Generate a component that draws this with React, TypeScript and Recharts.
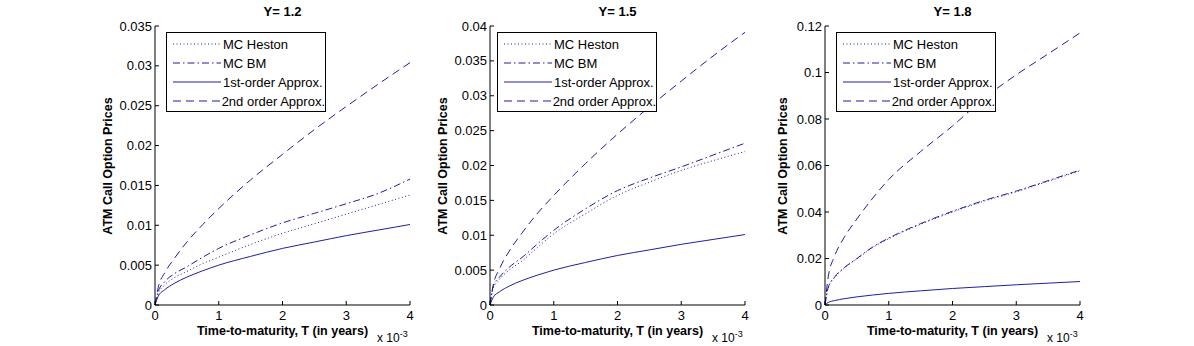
import { LineChart, Line, XAxis, YAxis, Legend } from 'recharts';

const FONT = '"Liberation Sans", Arial, Helvetica, sans-serif';
const BLUE = '#1f1f9f';

// time to maturity, in units of 1e-3 years
const maturities = [0, 0.05, 0.15, 0.3, 0.5, 0.75, 1, 1.5, 2, 2.5, 3, 3.5, 4];
const xTicks = [0, 1, 2, 3, 4];

// Y = 1.2
const heston12 = [0, 0.0014, 0.0025, 0.0034, 0.0042, 0.0052, 0.006, 0.0076, 0.009, 0.0102, 0.0114, 0.0126, 0.0138];
const bm12 = [0, 0.0017, 0.0029, 0.0039, 0.0048, 0.006, 0.0071, 0.0088, 0.0103, 0.0115, 0.0127, 0.014, 0.0158];
const first12 = [0, 0.0011, 0.0019, 0.0027, 0.0035, 0.0043, 0.005, 0.0061, 0.0071, 0.0079, 0.0087, 0.0094, 0.0101];
const second12 = [0, 0.0022, 0.004, 0.0058, 0.0079, 0.0101, 0.0121, 0.0157, 0.0189, 0.022, 0.0249, 0.0277, 0.0304];
const yTicks12 = [0, 0.005, 0.01, 0.015, 0.02, 0.025, 0.03, 0.035];

// Y = 1.5
const heston15 = [0, 0.0024, 0.0037, 0.005, 0.0063, 0.0083, 0.0102, 0.0131, 0.0157, 0.0176, 0.0193, 0.0207, 0.022];
const bm15 = [0, 0.0027, 0.004, 0.0054, 0.0068, 0.0088, 0.0107, 0.0138, 0.0164, 0.0182, 0.0198, 0.0215, 0.0232];
const first15 = [0, 0.0011, 0.0019, 0.0027, 0.0035, 0.0043, 0.005, 0.0061, 0.0071, 0.0079, 0.0087, 0.0094, 0.0101];
const second15 = [0, 0.0028, 0.0052, 0.0077, 0.0103, 0.0132, 0.0157, 0.0203, 0.0245, 0.0284, 0.0321, 0.0357, 0.0391];
const yTicks15 = [0, 0.005, 0.01, 0.015, 0.02, 0.025, 0.03, 0.035, 0.04];

// Y = 1.8
const heston18 = [0, 0.0073, 0.0118, 0.0158, 0.0198, 0.0247, 0.0285, 0.0347, 0.04, 0.0447, 0.0487, 0.0532, 0.0577];
const bm18 = [0, 0.0075, 0.012, 0.016, 0.02, 0.025, 0.0288, 0.035, 0.0403, 0.045, 0.049, 0.0535, 0.058];
const first18 = [0, 0.0011, 0.0019, 0.0027, 0.0035, 0.0043, 0.005, 0.0061, 0.0071, 0.0079, 0.0087, 0.0094, 0.0101];
const second18 = [0, 0.012, 0.021, 0.029, 0.037, 0.046, 0.054, 0.066, 0.077, 0.089, 0.099, 0.108, 0.117];
const yTicks18 = [0, 0.02, 0.04, 0.06, 0.08, 0.1, 0.12];

const seriesStyles = [
  { key: 'heston', name: 'MC Heston', dash: '1 2.5' },
  { key: 'bm', name: 'MC BM', dash: '7 3 1.5 3' },
  { key: 'first', name: '1st-order Approx.', dash: undefined },
  { key: 'second', name: '2nd order Approx.', dash: '8 5' },
];

const panels = [
  { title: 'Y= 1.2', heston: heston12, bm: bm12, first: first12, second: second12, yMax: 0.035, yTicks: yTicks12, legendDx: 11, labelOff: 47 },
  { title: 'Y= 1.5', heston: heston15, bm: bm15, first: first15, second: second15, yMax: 0.04, yTicks: yTicks15, legendDx: 7, labelOff: 47 },
  { title: 'Y= 1.8', heston: heston18, bm: bm18, first: first18, second: second18, yMax: 0.12, yTicks: yTicks18, legendDx: 11, labelOff: 42 },
];

const CHART_W = 335;
const CHART_H = 346;
const Y_W = 65;
const PLOT_W = 255;

function LegendBox() {
  return (
    <div
      style={{
        border: '1px solid #000',
        background: '#fff',
        width: 160,
        height: 80,
        boxSizing: 'border-box',
        paddingTop: 2,
        fontFamily: FONT,
        fontSize: 13,
        color: '#000',
      }}
    >
      {seriesStyles.map((s) => (
        <div key={s.key} style={{ display: 'flex', alignItems: 'center', height: 18.9 }}>
          <svg width={50} height={4} style={{ marginLeft: 5 }}>
            <line x1={1} y1={2} x2={49} y2={2} stroke={BLUE} strokeWidth={1} strokeDasharray={s.dash} />
          </svg>
          <span style={{ marginLeft: 1, whiteSpace: 'nowrap' }}>{s.name}</span>
        </div>
      ))}
    </div>
  );
}

function Panel({ p, left }: { p: (typeof panels)[number]; left: number }) {
  const data = maturities.map((t, i) => ({
    t,
    heston: p.heston[i],
    bm: p.bm[i],
    first: p.first[i],
    second: p.second[i],
  }));
  const plotCenter = Y_W + PLOT_W / 2;

  return (
    <div style={{ position: 'absolute', left, top: 0, width: CHART_W, height: CHART_H }}>
      <LineChart width={CHART_W} height={CHART_H} data={data} margin={{ top: 26, right: 15, left: 0, bottom: 0 }}>
        <XAxis
          dataKey="t"
          type="number"
          domain={[0, 4]}
          ticks={xTicks}
          height={41}
          stroke="#000"
          tickSize={-4}
          tickMargin={10}
          tick={{ fill: '#000', fontSize: 13, fontFamily: FONT }}
          interval={0}
        />
        <YAxis
          type="number"
          domain={[0, p.yMax]}
          ticks={p.yTicks}
          width={Y_W}
          stroke="#000"
          tickSize={-4}
          tickMargin={7}
          tick={{ fill: '#000', fontSize: 13, fontFamily: FONT }}
          interval={0}
          allowDataOverflow
        />
        <Legend
          layout="horizontal"
          align="center"
          verticalAlign="middle"
          wrapperStyle={{ left: Y_W + p.legendDx, top: 32, width: 162 }}
          content={() => <LegendBox />}
        />
        {seriesStyles.map((s) => (
          <Line
            key={s.key}
            type="monotone"
            dataKey={s.key}
            name={s.name}
            stroke={BLUE}
            strokeWidth={1}
            strokeDasharray={s.dash}
            dot={false}
            activeDot={false}
            isAnimationActive={false}
          />
        ))}
      </LineChart>
      <div
        style={{
          position: 'absolute',
          left: plotCenter,
          top: 5,
          transform: 'translateX(-50%)',
          fontFamily: FONT,
          fontWeight: 'bold',
          fontSize: 13,
          lineHeight: '13px',
          whiteSpace: 'nowrap',
        }}
      >
        {p.title}
      </div>
      <div
        style={{
          position: 'absolute',
          left: Y_W - p.labelOff,
          top: 26 + 279 / 2,
          transform: 'translate(-50%, -50%) rotate(-90deg)',
          fontFamily: FONT,
          fontWeight: 'bold',
          fontSize: 12.5,
          lineHeight: '13px',
          whiteSpace: 'nowrap',
        }}
      >
        ATM Call Option Prices
      </div>
      <div
        style={{
          position: 'absolute',
          left: plotCenter,
          top: 325,
          transform: 'translateX(-50%)',
          fontFamily: FONT,
          fontWeight: 'bold',
          fontSize: 12.5,
          lineHeight: '13px',
          whiteSpace: 'nowrap',
        }}
      >
        Time-to-maturity, T (in years)
      </div>
      <div
        style={{
          position: 'absolute',
          left: Y_W + PLOT_W - 33,
          top: 332,
          fontFamily: FONT,
          fontSize: 12,
          lineHeight: '12px',
          whiteSpace: 'nowrap',
        }}
      >
        x 10<span style={{ fontSize: 9, position: 'relative', top: -5 }}>-3</span>
      </div>
    </div>
  );
}

export default function App() {
  return (
    <div style={{ position: 'absolute', left: 0, top: 0, width: 1194, height: 346, background: '#fff', overflow: 'hidden' }}>
      {panels.map((p, i) => (
        <Panel key={p.title} p={p} left={90 + i * 335} />
      ))}
    </div>
  );
}
